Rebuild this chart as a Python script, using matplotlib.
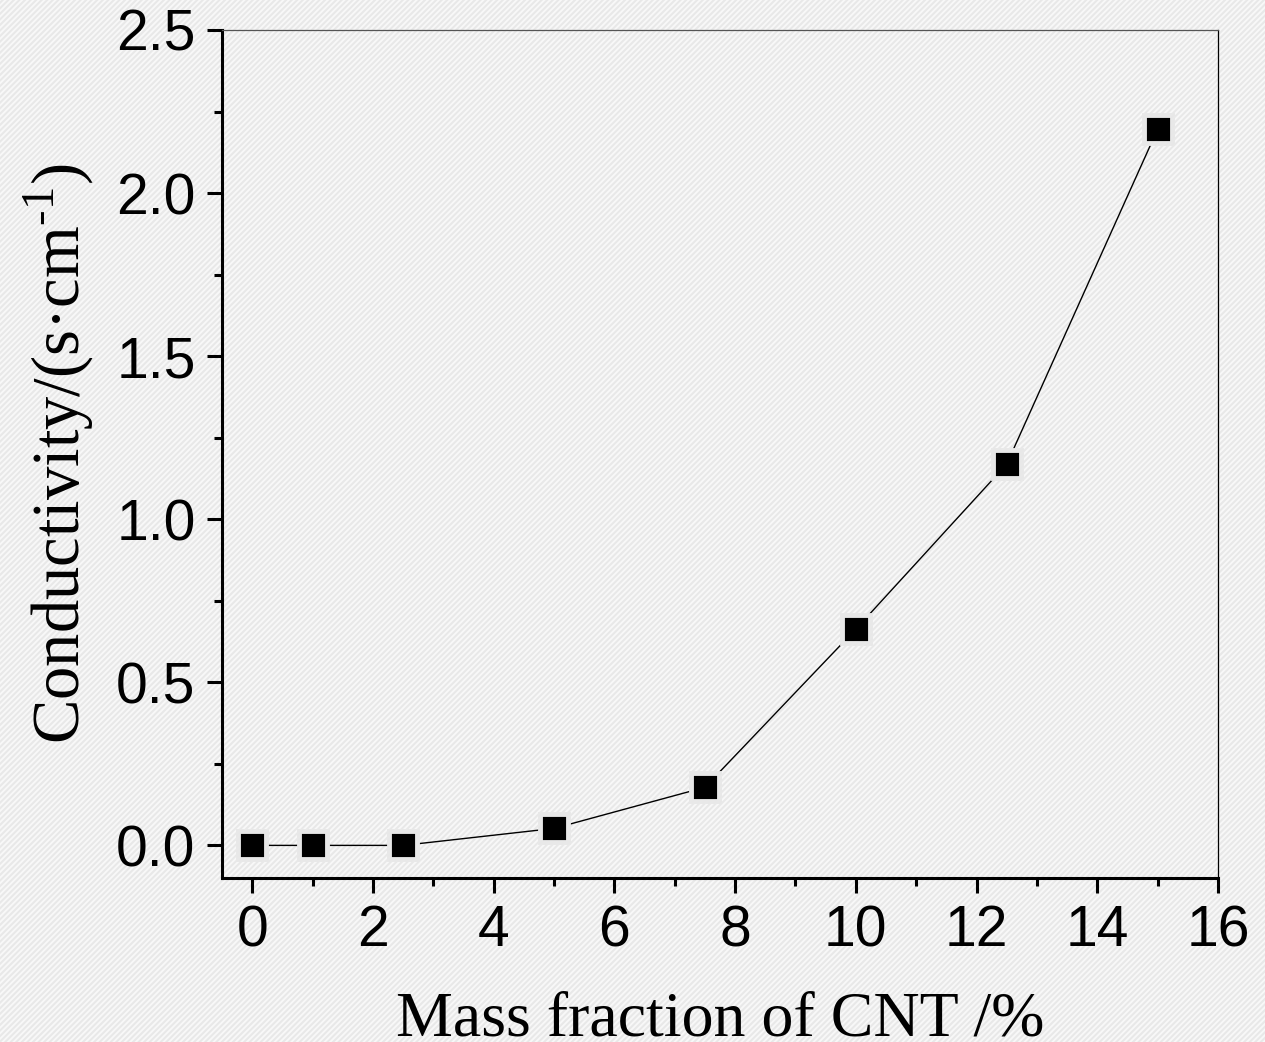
import matplotlib
matplotlib.use("Agg")
import matplotlib.pyplot as plt
from matplotlib.patches import Rectangle
from matplotlib.ticker import MultipleLocator, FormatStrFormatter

# CNT loading (wt%) and measured conductivity
mass_fraction = [0, 1, 2.5, 5, 7.5, 10, 12.5, 15]
conductivity = [0.0, 0.0, 0.0, 0.052, 0.178, 0.663, 1.169, 2.196]

plt.rcParams["mathtext.fontset"] = "custom"
plt.rcParams["mathtext.rm"] = "Liberation Serif"
plt.rcParams["axes.unicode_minus"] = False
plt.rcParams["hatch.linewidth"] = 1.4

bg = "#e8e8e8"
fig = plt.figure(figsize=(12.65, 10.42), dpi=100, facecolor=bg)

# striped paper background behind everything
fig.patches.append(Rectangle((0, 0), 1, 1, transform=fig.transFigure,
                             facecolor=bg, edgecolor="#f8f8f8", hatch="//////",
                             lw=0, zorder=-10))

ax = fig.add_axes([222 / 1265, 1 - 878 / 1042, (1218 - 222) / 1265, (878 - 30) / 1042])
ax.set_facecolor("none")

ax.plot(mass_fraction, conductivity, color="black", lw=1.0, marker="s",
        markersize=20, markerfacecolor="black", markeredgecolor=bg,
        markeredgewidth=3.5, zorder=3)

ax.set_xlim(-0.5, 16)
ax.set_ylim(-0.1, 2.5)
ax.xaxis.set_major_locator(MultipleLocator(2))
ax.xaxis.set_minor_locator(MultipleLocator(1))
ax.yaxis.set_major_locator(MultipleLocator(0.5))
ax.yaxis.set_minor_locator(MultipleLocator(0.25))
ax.yaxis.set_major_formatter(FormatStrFormatter("%.1f"))

for side in ("left", "bottom"):
    ax.spines[side].set_linewidth(2.2)
    ax.spines[side].set_color("black")
ax.spines["top"].set_linewidth(0.9)
ax.spines["top"].set_color("#555555")
ax.spines["right"].set_linewidth(0.9)
ax.spines["right"].set_color("black")

ax.tick_params(which="major", direction="out", length=11, width=2.2,
               labelsize=41, pad=8, top=False, right=False)
ax.tick_params(which="minor", direction="out", length=6, width=2.2,
               top=False, right=False)
for lbl in ax.get_xticklabels() + ax.get_yticklabels():
    lbl.set_family("Liberation Sans")

ax.set_xlabel("Mass fraction of CNT /%", family="Liberation Serif",
              fontsize=46, labelpad=24)
ax.set_ylabel("Conductivity/(s\u00b7cm$^{\mathregular{\u2010 1}}$)",
              family="Liberation Serif", fontsize=48, labelpad=14)

fig.savefig("out.png", dpi=100, facecolor=bg)
